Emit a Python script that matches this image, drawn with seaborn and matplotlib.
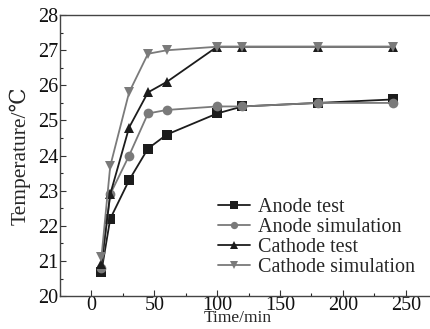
import numpy as np
import pandas as pd
import matplotlib
matplotlib.use("Agg")
import matplotlib.pyplot as plt
import seaborn as sns
from matplotlib.ticker import MultipleLocator

time_min = [8, 15, 30, 45, 60, 100, 120, 180, 240]
anode_test = [20.7, 22.2, 23.3, 24.2, 24.6, 25.2, 25.4, 25.5, 25.6]
anode_sim = [20.8, 22.9, 24.0, 25.2, 25.3, 25.4, 25.4, 25.5, 25.5]
cathode_test = [20.9, 22.9, 24.8, 25.8, 26.1, 27.1, 27.1, 27.1, 27.1]
cathode_sim = [21.1, 23.7, 25.8, 26.9, 27.0, 27.1, 27.1, 27.1, 27.1]
series_names = ["Anode test", "Anode simulation", "Cathode test", "Cathode simulation"]
x_ticks = [0, 50, 100, 150, 200, 250]
y_ticks = [20, 21, 22, 23, 24, 25, 26, 27, 28]

sns.set_style("ticks")
plt.rcParams["font.family"] = ["Liberation Serif", "DejaVu Serif", "DejaVu Sans"]
plt.rcParams["xtick.direction"] = "in"
plt.rcParams["ytick.direction"] = "in"

df = pd.DataFrame({
    "time": time_min * 4,
    "temp": anode_test + anode_sim + cathode_test + cathode_sim,
    "series": [s for s in series_names for _ in time_min],
})

fig = plt.figure(figsize=(4.31, 3.29), dpi=100)
ax = fig.add_axes([0.139, 0.100, 0.861, 0.854])
palette = {"Anode test": "#1c1c1c", "Anode simulation": "#7a7a7a",
           "Cathode test": "#1c1c1c", "Cathode simulation": "#7a7a7a"}
markers = {"Anode test": "s", "Anode simulation": "o",
           "Cathode test": "^", "Cathode simulation": "v"}
sns.lineplot(data=df, x="time", y="temp", hue="series", style="series",
             palette=palette, markers=markers, dashes=False, markersize=7,
             markeredgewidth=0, linewidth=1.3, ax=ax)

ax.set_xlim(-25, 270)
ax.set_ylim(20, 28)
ax.set_xticks(x_ticks)
ax.set_yticks(y_ticks)
ax.xaxis.set_minor_locator(MultipleLocator(25))
ax.yaxis.set_minor_locator(MultipleLocator(0.5))
ax.tick_params(labelsize=14.5, length=4, width=0.8, pad=1, colors="#333333", labelcolor="#111111")
ax.tick_params(axis="x", pad=0)
ax.tick_params(which="minor", length=2.5, width=0.8)
for side in ["left", "bottom", "top"]:
    ax.spines[side].set_color("#444444")
    ax.spines[side].set_linewidth(1.0)
ax.spines["right"].set_visible(False)
ax.set_xlabel("Time/min", fontsize=12.5, va="top")
ax.xaxis.set_label_coords(0.48, -0.05)
ax.set_ylabel("Temperature/℃", fontsize=15.5)
ax.yaxis.set_label_coords(-0.08, 0.5)

ax.legend(title=None, frameon=False, fontsize=14.5, loc="upper left",
          bbox_to_anchor=(0.398, 0.386), borderpad=0, handlelength=1.6,
          labelspacing=0.05, handletextpad=0.4, markerscale=0.75)

fig.savefig("out.png", dpi=100)
